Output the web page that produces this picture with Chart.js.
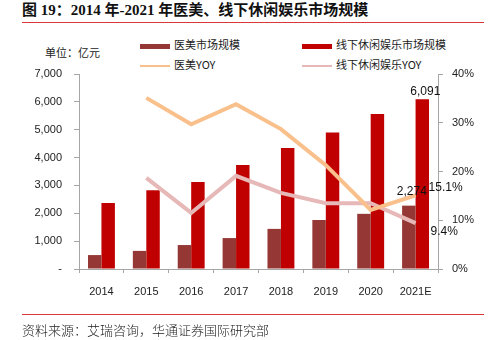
<!DOCTYPE html>
<html>
<head>
<meta charset="utf-8">
<script src="https://cdn.jsdelivr.net/npm/chart.js@4.4.0/dist/chart.umd.min.js"></script>
<style>
    body { margin: 0; width: 489px; height: 340px; background: #fff; position: relative; overflow: hidden;
           font-family: "Noto Sans CJK SC", "DejaVu Sans", sans-serif; }
    #title { position: absolute; left: 22px; top: -2px; font-size: 15px; font-weight: bold; color: #111; white-space: nowrap;
             font-family: "Liberation Serif", "Noto Sans CJK SC", serif; }
    .rule { position: absolute; left: 22px; width: 462px; height: 1px; background: #d9383a; }
    #source { position: absolute; left: 22px; top: 320px; font-size: 13px; color: #222; white-space: nowrap; font-weight: 300; }
    #unit { position: absolute; left: 45px; top: 44px; font-size: 11px; color: #222; }
    .leg { position: absolute; font-size: 11px; color: #222; white-space: nowrap; }
    .sw { display: inline-block; width: 30px; vertical-align: middle; margin-right: 4px; }
    canvas { position: absolute; left: 0; top: 0; }
</style>
</head>
<body>
<div id="title">图 19：2014 年-2021 年医美、线下休闲娱乐市场规模</div>
<div class="rule" style="top:22px"></div>
<div id="unit">单位：亿元</div>
<div id="legend"></div>
<canvas id="chartCanvas" width="489" height="340"></canvas>
<div class="rule" style="top:314px"></div>
<div id="source">资料来源：艾瑞咨询，华通证券国际研究部</div>
<script>
    // ---------------- Data ---------------------------------------------------
    const YEARS = [ "2014", "2015", "2016", "2017", "2018", "2019", "2020", "2021E" ] ;
    const MEDICAL_SIZE = [ 500, 650, 860, 1110, 1440, 1760, 1980, 2274 ] ;
    const LEISURE_SIZE = [ 2370, 2830, 3120, 3730, 4340, 4900, 5560, 6091 ] ;
    const MEDICAL_YOY = [ null, 35.1, 29.7, 33.8, 28.7, 21.3, 12.1, 15.1 ] ;
    const LEISURE_YOY = [ null, 18.7, 11.5, 19.1, 15.6, 13.5, 13.5, 9.4 ] ;
    const LEFT_TICKS = [ 0, 1000, 2000, 3000, 4000, 5000, 6000, 7000 ] ;
    const RIGHT_TICKS = [ 0, 10, 20, 30, 40 ] ;

    const AXIS_COLOR = '#a6a6a6' ;
    const FONT = { family: '"Liberation Sans", "DejaVu Sans", sans-serif', size: 11 } ;

    // ---------------- Legend (2 x 2 grid) -----------------------------------
    const legendItems = [
        { label: '医美市场规模',         color: '#953735', h: 5, x: 140, y: 36 },
        { label: '线下休闲娱乐市场规模', color: '#c00000', h: 5, x: 302, y: 36 },
        { label: '医美YOY',              color: '#f9c08c', h: 2, x: 140, y: 56 },
        { label: '线下休闲娱乐YOY',      color: '#e6b8b7', h: 2, x: 302, y: 56 }
    ] ;
    var legendDiv = document.getElementById( 'legend' ) ;
    legendItems.forEach( function( it ) {
        var d = document.createElement( 'div' ) ;
        d.className = 'leg' ;
        d.style.left = it.x + 'px' ;
        d.style.top = it.y + 'px' ;
        d.innerHTML = '<span class="sw" style="height:' + it.h + 'px;background:' + it.color + '"></span>' + it.label ;
        legendDiv.appendChild( d ) ;
    } ) ;

    // ---------------- Value labels on last year ------------------------------
    const valueLabels = {
        id: 'valueLabels',
        afterDatasetsDraw: function( chart ) {
            var ctx = chart.ctx ;
            var last = YEARS.length - 1 ;
            ctx.save() ;
            ctx.font = '12px "Liberation Sans", sans-serif' ;
            ctx.fillStyle = '#111' ;
            ctx.textBaseline = 'middle' ;

            var b0 = chart.getDatasetMeta( 0 ).data[ last ] ;
            var b1 = chart.getDatasetMeta( 1 ).data[ last ] ;
            var p2 = chart.getDatasetMeta( 2 ).data[ last ] ;
            var p3 = chart.getDatasetMeta( 3 ).data[ last ] ;

            ctx.textAlign = 'center' ;
            ctx.fillText( LEISURE_SIZE[ last ].toLocaleString( 'en-US' ), b1.x + 3, b1.y - 8 ) ;
            ctx.fillText( MEDICAL_SIZE[ last ].toLocaleString( 'en-US' ), b0.x + 3, b0.y - 14 ) ;

            ctx.textAlign = 'left' ;
            ctx.fillText( MEDICAL_YOY[ last ].toFixed( 1 ) + '%', p2.x + 13, p2.y - 8 ) ;
            ctx.fillText( LEISURE_YOY[ last ].toFixed( 1 ) + '%', p3.x + 15, p3.y + 9 ) ;
            ctx.restore() ;
        }
    } ;

    // ---------------- Chart ---------------------------------------------------
    var canvas = document.getElementById( 'chartCanvas' ) ;
    var chart = new Chart( canvas, {
        data: {
            labels: YEARS,
            datasets: [
                { type: 'bar', label: '医美市场规模', data: MEDICAL_SIZE, backgroundColor: '#953735',
                  yAxisID: 'y', categoryPercentage: 0.6, barPercentage: 1.0, order: 2 },
                { type: 'bar', label: '线下休闲娱乐市场规模', data: LEISURE_SIZE, backgroundColor: '#c00000',
                  yAxisID: 'y', categoryPercentage: 0.6, barPercentage: 1.0, order: 2 },
                { type: 'line', label: '医美YOY', data: MEDICAL_YOY, borderColor: '#f9c08c',
                  borderWidth: 4, pointRadius: 0, tension: 0, yAxisID: 'y1', order: 1 },
                { type: 'line', label: '线下休闲娱乐YOY', data: LEISURE_YOY, borderColor: '#e6b8b7',
                  borderWidth: 4, pointRadius: 0, tension: 0, yAxisID: 'y1', order: 1 }
            ]
        },
        options: {
            responsive: false,
            animation: false,
            layout: { padding: { top: 74, left: 0, right: 0, bottom: 0 } },
            plugins: { legend: { display: false }, tooltip: { enabled: false } },
            scales: {
                x: {
                    offset: true,
                    grid: { offset: true, drawOnChartArea: false, color: AXIS_COLOR, tickLength: 4 },
                    border: { color: AXIS_COLOR },
                    ticks: { color: '#222', font: FONT, padding: 12, maxRotation: 0 },
                    afterFit: function( scale ) { scale.height = 71 ; }
                },
                y: {
                    position: 'left',
                    min: 0, max: 7000,
                    afterBuildTicks: function( scale ) { scale.ticks = LEFT_TICKS.map( v => ( { value: v } ) ) ; },
                    grid: { drawOnChartArea: false, color: AXIS_COLOR, tickLength: 5 },
                    border: { color: AXIS_COLOR },
                    ticks: { color: '#222', font: FONT, padding: 12,
                             callback: function( v ) { return v === 0 ? '-' : v.toLocaleString( 'en-US' ) ; } },
                    afterFit: function( scale ) { scale.width = 79 ; }
                },
                y1: {
                    position: 'right',
                    min: 0, max: 40,
                    afterBuildTicks: function( scale ) { scale.ticks = RIGHT_TICKS.map( v => ( { value: v } ) ) ; },
                    grid: { drawOnChartArea: false, color: AXIS_COLOR, tickLength: 5 },
                    border: { color: AXIS_COLOR },
                    ticks: { color: '#222', font: FONT, padding: 9,
                             callback: function( v ) { return v + '%' ; } },
                    afterFit: function( scale ) { scale.width = 51 ; }
                }
            }
        },
        plugins: [ valueLabels ]
    } ) ;
</script>
</body>
</html>
